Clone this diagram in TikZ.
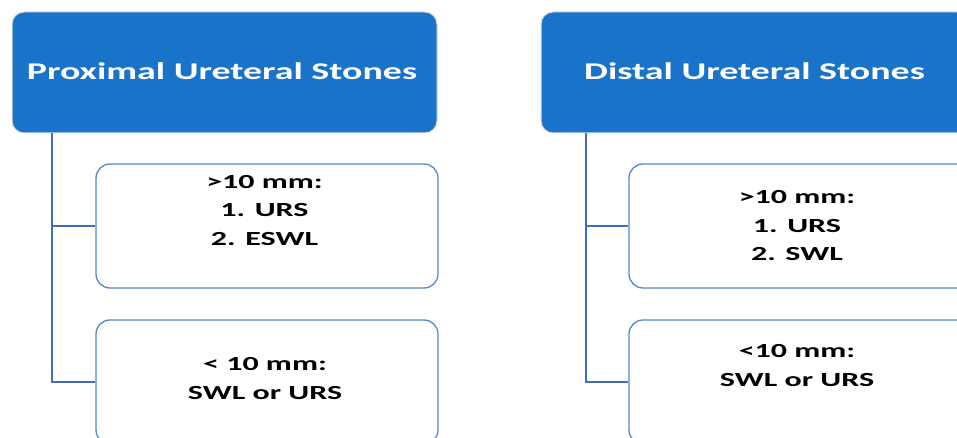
\documentclass[tikz,border=0pt]{standalone}
\usepackage{fontspec}
\newfontfamily\headfont[FakeStretch=1.58]{Carlito}
\newfontfamily\bodyfont[FakeStretch=1.6]{Carlito}
\definecolor{headblue}{RGB}{24,115,201}
\definecolor{boxline}{RGB}{84,136,204}
\definecolor{conline}{RGB}{68,110,180}
\tikzset{
  header/.style={fill=headblue, draw=black!12, line width=1pt, rounded corners=12pt,
    minimum width=425pt, minimum height=121pt, inner sep=0pt},
  childbox/.style={fill=white, draw=boxline, line width=1.3pt, rounded corners=14pt,
    minimum width=342pt, minimum height=124pt, inner sep=0pt},
  headtext/.style={text=white, font=\headfont\bfseries\fontsize{24}{28}\selectfont, inner sep=0pt},
  bodytext/.style={text=black, align=center, font=\bodyfont\bfseries\fontsize{20}{28.5}\selectfont, inner sep=0pt},
  conn/.style={draw=conline, line width=1.5pt}
}
\begin{document}
\begin{tikzpicture}[x=1pt,y=-1pt]
\useasboundingbox (0,0) rectangle (957,438);
\clip (0,0) rectangle (957,438);
% left column
\node[header] (hl) at (224.5,72.5) {};
\node[headtext] (hlt) at (222,71) {Proximal Ureteral Stones};
\node[childbox] (l1) at (267,226) {};
\node[childbox] (l2) at (267,382) {};
\node[bodytext] (l1t) at (264.5,210.5) {>10 mm:\\1. URS\\2. ESWL};
\node[bodytext] (l2t) at (265,378.5) {< 10 mm:\\SWL or URS};
\coordinate (tl) at (52,133);
\draw[conn] (tl) |- (l1.west);
\draw[conn] (tl) |- (l2.west);
% right column
\node[header] (hr) at (755,72.5) [minimum width=428pt] {};
\node[headtext] (hrt) at (754.5,71) {Distal Ureteral Stones};
\node[childbox] (r1) at (800,226) {};
\node[childbox] (r2) at (800,382) {};
\node[bodytext] (r1t) at (797,226) {>10 mm:\\1. URS\\2. SWL};
\node[bodytext] (r2t) at (797,365.5) {<10 mm:\\SWL or URS};
\coordinate (tr) at (586,133);
\draw[conn] (tr) |- (r1.west);
\draw[conn] (tr) |- (r2.west);
\end{tikzpicture}
\end{document}
